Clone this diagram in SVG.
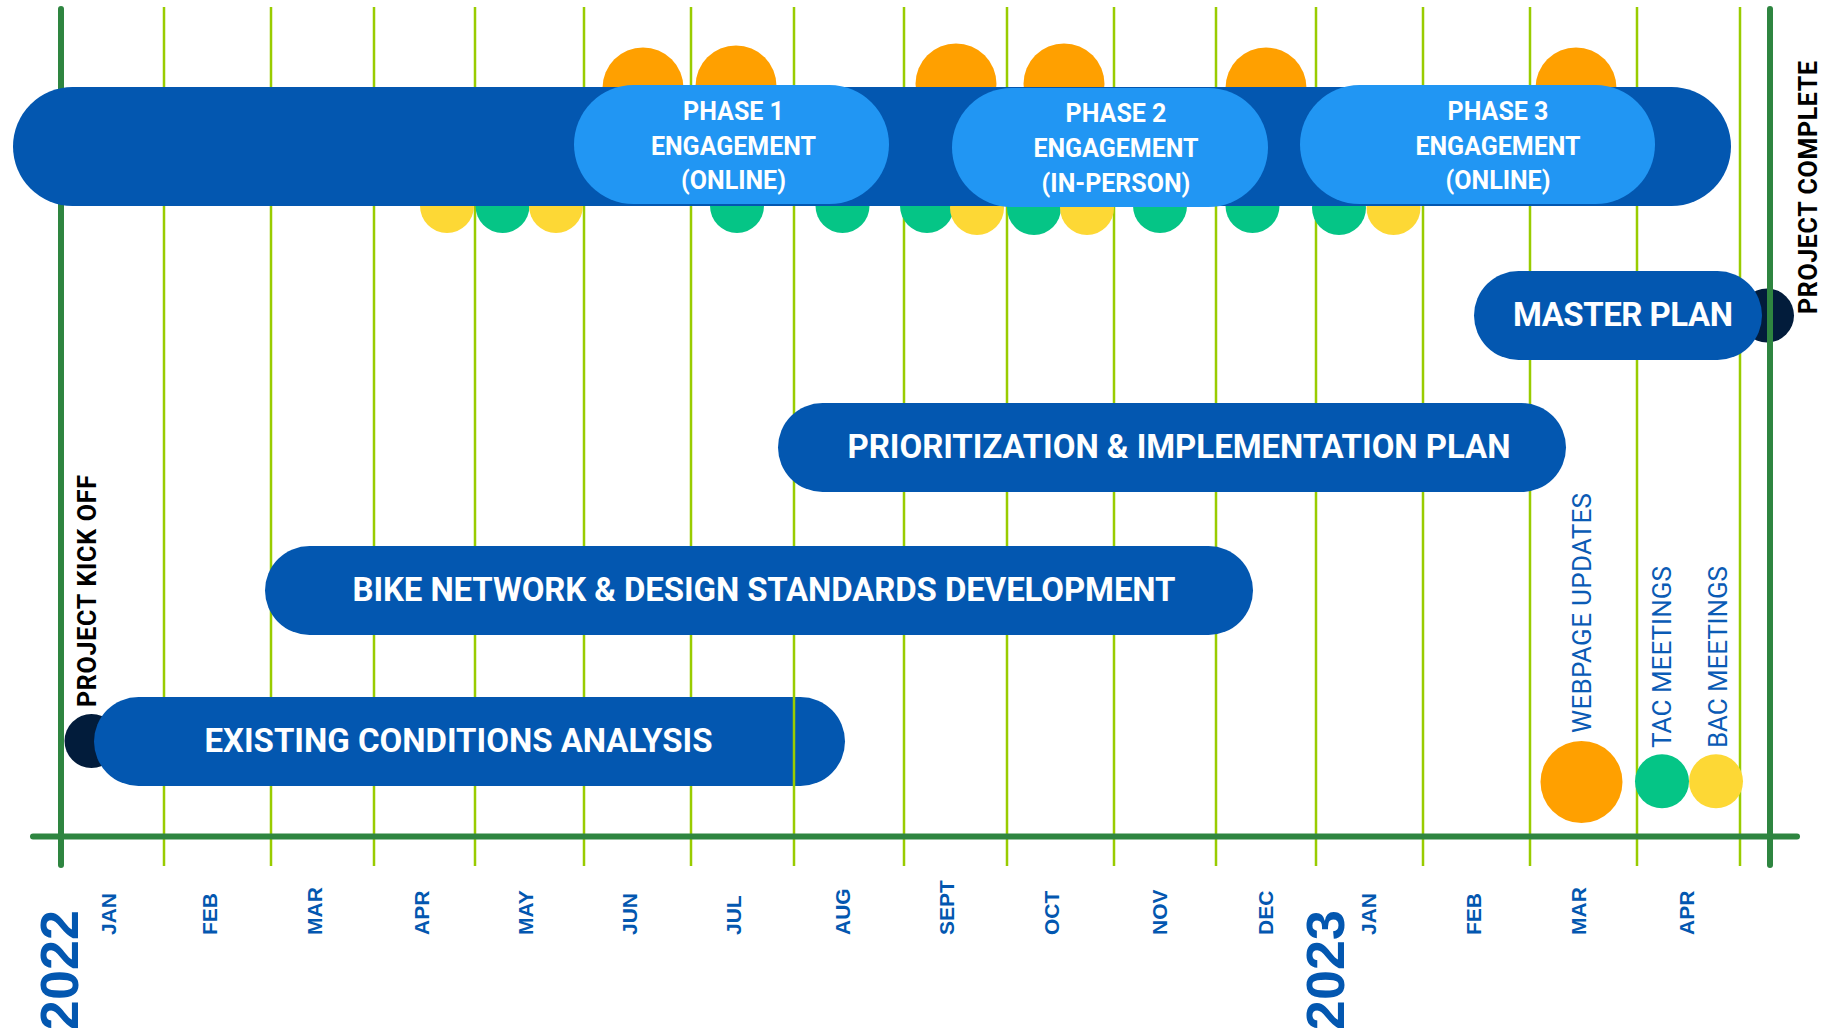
<svg xmlns="http://www.w3.org/2000/svg" width="1832" height="1028" viewBox="0 0 1832 1028">
<style>
.bg{fill:#ffffff}
.gl{stroke:#99cc00;stroke-width:2.5;fill:none}
.dl{stroke:#2e8540;stroke-width:6;stroke-linecap:round;fill:none}
.bar{fill:#0357b0}
.ph{fill:#2196f3}
.org{fill:#ffa000}
.grn{fill:#05c586}
.yel{fill:#fdd835}
.nav{fill:#021c3b}
.bt{font-family:Roboto,"Liberation Sans",sans-serif;font-weight:bold;fill:#ffffff;text-anchor:middle;font-size:33px}
.pt{font-family:Roboto,"Liberation Sans",sans-serif;font-weight:bold;fill:#ffffff;text-anchor:middle;font-size:25px}
.mo{font-family:"Liberation Sans",Arial,sans-serif;font-weight:bold;fill:#0357b0;font-size:21px}
.yr{font-family:"Liberation Sans",Arial,sans-serif;font-weight:bold;fill:#0357b0;font-size:54px;text-anchor:end}
.ms{font-family:Roboto,"Liberation Sans",sans-serif;font-weight:bold;fill:#000000;font-size:25px}
.lg{font-family:Roboto,"Liberation Sans",sans-serif;fill:#0a5bb5;font-size:26px}
</style>
<rect class="bg" x="0" y="0" width="1832" height="1028"/>
<circle id="complete-dot" class="nav" cx="1767" cy="315.5" r="27"/>
<g id="connectors">
<g id="month-lines">
<line class="gl" x1="164" y1="7" x2="164" y2="866"/>
<line class="gl" x1="271" y1="7" x2="271" y2="866"/>
<line class="gl" x1="374" y1="7" x2="374" y2="866"/>
<line class="gl" x1="475" y1="7" x2="475" y2="866"/>
<line class="gl" x1="584" y1="7" x2="584" y2="866"/>
<line class="gl" x1="691" y1="7" x2="691" y2="866"/>
<line class="gl" x1="794" y1="7" x2="794" y2="866"/>
<line class="gl" x1="904" y1="7" x2="904" y2="866"/>
<line class="gl" x1="1007" y1="7" x2="1007" y2="866"/>
<line class="gl" x1="1114" y1="7" x2="1114" y2="866"/>
<line class="gl" x1="1216" y1="7" x2="1216" y2="866"/>
<line class="gl" x1="1316" y1="7" x2="1316" y2="866"/>
<line class="gl" x1="1423" y1="7" x2="1423" y2="866"/>
<line class="gl" x1="1530" y1="7" x2="1530" y2="866"/>
<line class="gl" x1="1637" y1="7" x2="1637" y2="866"/>
<line class="gl" x1="1740" y1="7" x2="1740" y2="866"/>
</g>
<line class="dl" x1="61" y1="9" x2="61" y2="865"/>
<line class="dl" x1="1770" y1="9" x2="1770" y2="865"/>
<line id="axis" class="dl" x1="33" y1="836.5" x2="1797" y2="836.5" stroke-width="7"/>
</g>
<g id="webpage-dots">
<circle class="org" cx="643" cy="88" r="40.5"/>
<circle class="org" cx="736" cy="86" r="40.5"/>
<circle class="org" cx="956" cy="84" r="40.5"/>
<circle class="org" cx="1064" cy="84" r="40.5"/>
<circle class="org" cx="1266" cy="88" r="40.5"/>
<circle class="org" cx="1576" cy="88" r="40.5"/>
</g>
<g id="meeting-dots">
<circle class="yel" cx="447" cy="206" r="27"/>
<circle class="grn" cx="502.5" cy="206" r="27"/>
<circle class="yel" cx="556" cy="206" r="27"/>
<circle class="grn" cx="737" cy="206" r="27"/>
<circle class="grn" cx="842.5" cy="206" r="27"/>
<circle class="grn" cx="927" cy="206" r="27"/>
<circle class="yel" cx="977" cy="208" r="27"/>
<circle class="grn" cx="1034" cy="208" r="27"/>
<circle class="yel" cx="1087" cy="208" r="27"/>
<circle class="grn" cx="1160" cy="206" r="27"/>
<circle class="grn" cx="1252.5" cy="206" r="27"/>
<circle class="grn" cx="1339" cy="208" r="27"/>
<circle class="yel" cx="1393.5" cy="208" r="27"/>
</g>
<g id="engagement-bar">
<rect class="bar" x="13" y="87" width="1718" height="119" rx="59.5"/>
</g>
<g id="phase1">
<rect class="ph" x="574" y="85" width="315" height="119" rx="59.5"/>
<text class="pt" x="733.5" y="119.5">PHASE 1</text>
<text class="pt" x="733.5" y="154.5">ENGAGEMENT</text>
<text class="pt" x="733.5" y="189">(ONLINE)</text>
</g>
<g id="phase2">
<rect class="ph" x="952" y="88" width="316" height="119" rx="59.5"/>
<text class="pt" x="1116" y="122">PHASE 2</text>
<text class="pt" x="1116" y="157">ENGAGEMENT</text>
<text class="pt" x="1116" y="191.5">(IN-PERSON)</text>
</g>
<g id="phase3">
<rect class="ph" x="1300" y="85" width="355" height="119" rx="59.5"/>
<text class="pt" x="1498" y="119.5">PHASE 3</text>
<text class="pt" x="1498" y="154.5">ENGAGEMENT</text>
<text class="pt" x="1498" y="189">(ONLINE)</text>
</g>
<g id="master-plan">
<rect class="bar" x="1474" y="271" width="288" height="89" rx="44.5"/>
<text class="bt" x="1623" y="326" textLength="220">MASTER PLAN</text>
</g>
<g id="prioritization">
<rect class="bar" x="778" y="403" width="788" height="89" rx="44.5"/>
<text class="bt" x="1179" y="458" textLength="663">PRIORITIZATION &amp; IMPLEMENTATION PLAN</text>
</g>
<g id="bike-network">
<rect class="bar" x="265" y="546" width="988" height="89" rx="44.5"/>
<text class="bt" x="764" y="601" textLength="823">BIKE NETWORK &amp; DESIGN STANDARDS DEVELOPMENT</text>
</g>
<g id="kickoff">
<circle class="nav" cx="91.5" cy="741" r="27"/>
<text class="ms" transform="translate(96,707) rotate(-90)" textLength="232">PROJECT KICK OFF</text>
</g>
<g id="existing-conditions">
<rect class="bar" x="94" y="697" width="751" height="89" rx="44.5"/>
<text class="bt" x="458.5" y="752" textLength="508">EXISTING CONDITIONS ANALYSIS</text>
<line class="gl" x1="794" y1="697" x2="794" y2="786"/>
</g>
<g id="complete">
<text class="ms" transform="translate(1817,314) rotate(-90)" textLength="253">PROJECT COMPLETE</text>
</g>
<g id="legend">
<circle class="org" cx="1581.5" cy="782" r="41"/>
<circle class="grn" cx="1662" cy="781.3" r="27"/>
<circle class="yel" cx="1716" cy="781.3" r="27"/>
<text class="lg" transform="translate(1590.5,733) rotate(-90)" textLength="240">WEBPAGE UPDATES</text>
<text class="lg" transform="translate(1670.5,748) rotate(-90)" textLength="182">TAC MEETINGS</text>
<text class="lg" transform="translate(1726.5,748) rotate(-90)" textLength="182">BAC MEETINGS</text>
</g>
<g id="months">
<text class="mo" transform="translate(116,935) rotate(-90)">JAN</text>
<text class="mo" transform="translate(217,935) rotate(-90)">FEB</text>
<text class="mo" transform="translate(321.5,935) rotate(-90)">MAR</text>
<text class="mo" transform="translate(428.5,935) rotate(-90)">APR</text>
<text class="mo" transform="translate(532.5,935) rotate(-90)">MAY</text>
<text class="mo" transform="translate(636.5,935) rotate(-90)">JUN</text>
<text class="mo" transform="translate(741,935) rotate(-90)">JUL</text>
<text class="mo" transform="translate(849.5,935) rotate(-90)">AUG</text>
<text class="mo" transform="translate(953.5,935) rotate(-90)">SEPT</text>
<text class="mo" transform="translate(1059,935) rotate(-90)">OCT</text>
<text class="mo" transform="translate(1167,935) rotate(-90)">NOV</text>
<text class="mo" transform="translate(1273,935) rotate(-90)">DEC</text>
<text class="mo" transform="translate(1376,935) rotate(-90)">JAN</text>
<text class="mo" transform="translate(1481,935) rotate(-90)">FEB</text>
<text class="mo" transform="translate(1585.5,935) rotate(-90)">MAR</text>
<text class="mo" transform="translate(1693.5,935) rotate(-90)">APR</text>
</g>
<g id="years">
<text class="yr" transform="translate(77.5,910) rotate(-90)">2022</text>
<text class="yr" transform="translate(1343.5,910) rotate(-90)">2023</text>
</g>
</svg>
